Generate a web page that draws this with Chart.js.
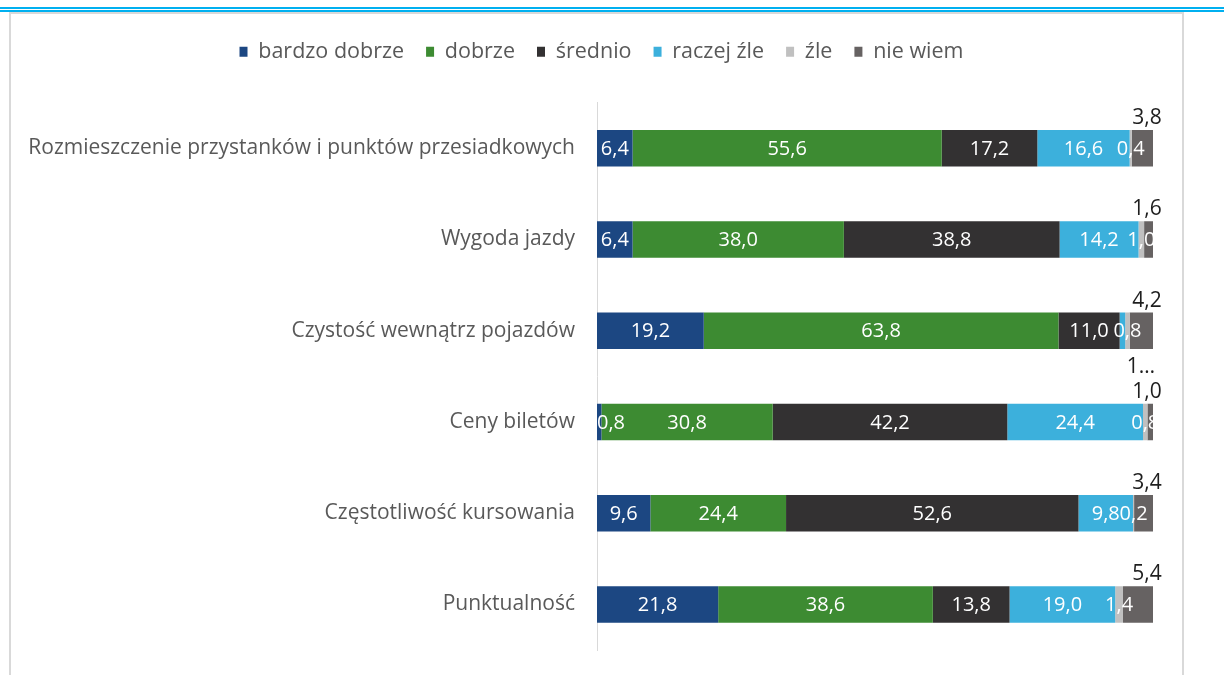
<!DOCTYPE html>
<html lang="pl">
<head>
<meta charset="utf-8">
<script src="https://cdn.jsdelivr.net/npm/chart.js@4"></script>
<style>
  html, body { margin: 0; padding: 0; background: #fff; }
  #page { position: relative; width: 1224px; height: 675px; overflow: hidden; }
  .rule { position: absolute; left: 0; width: 1224px; background: #00b0f0; }
  #frame {
    position: absolute; left: 9px; top: 12px; width: 1171px; height: 700px;
    border: 2px solid #d9d9d9;
  }
  canvas { position: absolute; left: 0; top: 0; }
</style>
</head>
<body>
<div id="page">
  <div class="rule" style="top:7px;height:2px"></div>
  <div class="rule" style="top:10px;height:2px"></div>
  <div id="frame"></div>
  <canvas id="chart" width="1224" height="675"></canvas>
</div>
<script>
// kategorie (oś Y)
const categories = [
  "Rozmieszczenie przystanków i punktów przesiadkowych",
  "Wygoda jazdy",
  "Czystość wewnątrz pojazdów",
  "Ceny biletów",
  "Częstotliwość kursowania",
  "Punktualność"
];

// odpowiedzi w %
const bardzoDobrze = [6.4, 6.4, 19.2, 0.8, 9.6, 21.8];
const dobrze       = [55.6, 38.0, 63.8, 30.8, 24.4, 38.6];
const srednio      = [17.2, 38.8, 11.0, 42.2, 52.6, 13.8];
const raczejZle    = [16.6, 14.2, 1.0, 24.4, 9.8, 19.0];
const zle          = [0.4, 1.0, 0.8, 0.8, 0.2, 1.4];
const nieWiem      = [3.8, 1.6, 4.2, 1.0, 3.4, 5.4];

const fontFamily = "'Open Sans', 'Noto Sans', sans-serif";

const fmt = v => v.toFixed(1).replace(".", ",");

// etykiety wartości: białe w środku słupka, "nie wiem" nad słupkiem
const valueLabels = {
  id: "valueLabels",
  afterDatasetsDraw(chart) {
    const { ctx, chartArea } = chart;
    ctx.save();
    ctx.textBaseline = "middle";
    ctx.textAlign = "center";
    chart.data.datasets.forEach((ds, i) => {
      const meta = chart.getDatasetMeta(i);
      meta.data.forEach((el, j) => {
        const v = ds.data[j];
        const txt = fmt(v);
        if (ds.label === "nie wiem") {
          ctx.font = "21px " + fontFamily;
          ctx.fillStyle = "#1e1e1e";
          ctx.fillText(txt, chartArea.right - 6, el.y - 30);
          return;
        }
        if (ds.label === "raczej źle" && v < 2) {
          // za wąski segment – skrócona etykieta pod słupkiem
          ctx.font = "21px " + fontFamily;
          ctx.fillStyle = "#1e1e1e";
          ctx.fillText("1…", chartArea.right - 12, el.y + 36);
          return;
        }
        ctx.font = "20px " + fontFamily;
        const w = ctx.measureText(txt).width;
        let cx = (el.base + el.x) / 2;
        if (cx - w / 2 < chartArea.left) cx = chartArea.left + w / 2;
        ctx.fillStyle = "#ffffff";
        ctx.fillText(txt, cx, el.y + 1);
      });
    });
    ctx.restore();
  }
};

// legenda: więcej miejsca pod spodem i wyśrodkowanie nad całym wykresem
const legendSpace = {
  id: "legendSpace",
  beforeInit(chart) {
    const fit = chart.legend.fit;
    chart.legend.fit = function () {
      fit.bind(chart.legend)();
      this.height += 30;
    };
  },
  afterLayout(chart) {
    chart.legend.left = 50;
  }
};

const mk = (label, data, color) => ({
  label, data,
  backgroundColor: color,
  borderWidth: 0,
  barPercentage: 0.4,
  categoryPercentage: 1.0
});

new Chart(document.getElementById("chart"), {
  type: "bar",
  data: {
    labels: categories,
    datasets: [
      mk("bardzo dobrze", bardzoDobrze, "#1c4782"),
      mk("dobrze", dobrze, "#3d8b32"),
      mk("średnio", srednio, "#333132"),
      mk("raczej źle", raczejZle, "#3cb0dc"),
      mk("źle", zle, "#c0c0c0"),
      mk("nie wiem", nieWiem, "#666262")
    ]
  },
  options: {
    indexAxis: "y",
    responsive: false,
    animation: false,
    layout: { padding: { top: 19, right: 71, bottom: 25, left: 0 } },
    plugins: {
      tooltip: { enabled: false },
      legend: {
        position: "top",
        align: "center",
        labels: {
          boxWidth: 8,
          boxHeight: 10,
          padding: 22,
          color: "#595959",
          font: { family: fontFamily, size: 21.5 }
        }
      }
    },
    scales: {
      x: { stacked: true, min: 0, max: 100, display: false },
      y: {
        stacked: true,
        grid: { display: false, drawTicks: false },
        border: { display: true, color: "#d9d9d9", width: 1 },
        ticks: { color: "#595959", padding: 22, font: { family: fontFamily, size: 21 } },
        afterFit(scale) {
          scale.width = 597;
          scale.paddingTop = 0;
          scale.paddingBottom = 0;
        }
      }
    }
  },
  plugins: [valueLabels, legendSpace]
});
</script>
</body>
</html>
